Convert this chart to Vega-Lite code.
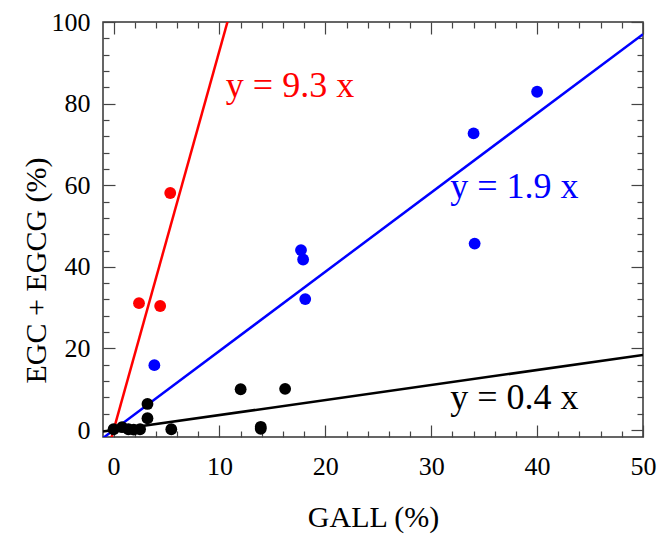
{
  "$schema": "https://vega.github.io/schema/vega-lite/v6.json",
  "width": 540,
  "height": 415,
  "autosize": {"type": "none"},
  "padding": {"left": 103, "top": 22, "right": 21, "bottom": 97},
  "background": "white",
  "config": {
    "view": {"stroke": "#333333", "strokeWidth": 1.5},
    "font": "Liberation Serif",
    "axis": {"grid": false, "domain": false, "tickColor": "#444444", "tickWidth": 1.2, "labelFont": "Liberation Serif", "titleFont": "Liberation Serif", "labelColor": "black", "titleColor": "black", "titleFontWeight": "normal", "labelFontSize": 26, "titleFontSize": 30}
  },
  "datasets": {
    "pts": [
      {"series": "red", "gall": 2.4, "egc": 31.1},
      {"series": "red", "gall": 4.4, "egc": 30.4},
      {"series": "red", "gall": 5.35, "egc": 58.1},
      {"series": "blue", "gall": 3.85, "egc": 15.9},
      {"series": "blue", "gall": 17.7, "egc": 44.1},
      {"series": "blue", "gall": 17.9, "egc": 41.8},
      {"series": "blue", "gall": 18.1, "egc": 32.1},
      {"series": "blue", "gall": 34.0, "egc": 72.7},
      {"series": "blue", "gall": 34.1, "egc": 45.7},
      {"series": "blue", "gall": 40.0, "egc": 82.9},
      {"series": "black", "gall": 0.0, "egc": 0.2},
      {"series": "black", "gall": 0.8, "egc": 0.7},
      {"series": "black", "gall": 1.4, "egc": 0.2},
      {"series": "black", "gall": 1.9, "egc": 0.1},
      {"series": "black", "gall": 2.5, "egc": 0.2},
      {"series": "black", "gall": 3.2, "egc": 2.9},
      {"series": "black", "gall": 3.2, "egc": 6.4},
      {"series": "black", "gall": 5.45, "egc": 0.2},
      {"series": "black", "gall": 12.0, "egc": 10.0},
      {"series": "black", "gall": 16.2, "egc": 10.1},
      {"series": "black", "gall": 13.9, "egc": 0.3},
      {"series": "black", "gall": 13.9, "egc": 0.8}
    ],
    "fits": [
      {"series": "red", "gall": -1, "egc": -9.3},
      {"series": "red", "gall": 11, "egc": 102.3},
      {"series": "blue", "gall": -1, "egc": -1.94},
      {"series": "blue", "gall": 50, "egc": 97},
      {"series": "black", "gall": -1, "egc": -0.37},
      {"series": "black", "gall": 50, "egc": 18.4}
    ],
    "labels": [
      {"series": "red", "gall": 10.6, "egc": 81.6, "text": "y = 9.3 x"},
      {"series": "blue", "gall": 31.8, "egc": 56.9, "text": "y = 1.9 x"},
      {"series": "black", "gall": 31.8, "egc": 5.1, "text": "y = 0.4 x"}
    ]
  },
  "layer": [
    {
      "data": {"name": "fits"},
      "mark": {"type": "line", "clip": true, "strokeWidth": 2.5},
      "encoding": {
        "x": {"field": "gall", "type": "quantitative", "scale": {"domain": [-1, 50], "nice": false, "zero": false},
          "axis": {"orient": "bottom", "title": "GALL (%)", "values": [0,2,4,6,8,10,12,14,16,18,20,22,24,26,28,30,32,34,36,38,40,42,44,46,48,50],
            "labelExpr": "datum.value % 10 === 0 ? datum.label : ''", "labelFlush": false,
            "tickSize": {"condition": {"test": "datum.value % 10 === 0", "value": -12}, "value": -6},
            "labelPadding": 28, "titleBaseline": "alphabetic", "titleY": 89}},
        "y": {"field": "egc", "type": "quantitative", "scale": {"domain": [-1.7, 100], "nice": false, "zero": false},
          "axis": {"orient": "left", "title": "EGC + EGCG (%)", "values": [0,4,8,12,16,20,24,28,32,36,40,44,48,52,56,60,64,68,72,76,80,84,88,92,96,100],
            "labelExpr": "datum.value % 20 === 0 ? datum.label : ''", "labelFlush": false,
            "tickSize": {"condition": {"test": "datum.value % 20 === 0", "value": -12}, "value": -6},
            "labelPadding": 25, "titleFontSize": 30, "titleBaseline": "alphabetic", "titleX": -58, "titleY": 248}},
        "color": {"field": "series", "type": "nominal", "scale": {"domain": ["red", "blue", "black"], "range": ["#ff0000", "#0000ff", "#000000"]}, "legend": null},
        "detail": {"field": "series"}
      }
    },
    {
      "data": {"name": "pts"},
      "mark": {"type": "circle", "size": 140, "opacity": 1},
      "encoding": {
        "x": {"field": "gall", "type": "quantitative",
          "axis": {"orient": "top", "title": null, "values": [0,2,4,6,8,10,12,14,16,18,20,22,24,26,28,30,32,34,36,38,40,42,44,46,48,50],
            "labels": false,
            "tickSize": {"condition": {"test": "datum.value % 10 === 0", "value": -12}, "value": -6}}},
        "y": {"field": "egc", "type": "quantitative",
          "axis": {"orient": "right", "title": null, "values": [0,4,8,12,16,20,24,28,32,36,40,44,48,52,56,60,64,68,72,76,80,84,88,92,96,100],
            "labels": false,
            "tickSize": {"condition": {"test": "datum.value % 20 === 0", "value": -12}, "value": -6}}},
        "color": {"field": "series", "type": "nominal", "legend": null}
      }
    },
    {
      "data": {"name": "labels"},
      "mark": {"type": "text", "align": "left", "baseline": "alphabetic", "fontSize": 36, "font": "Liberation Serif"},
      "encoding": {
        "x": {"field": "gall", "type": "quantitative", "axis": null},
        "y": {"field": "egc", "type": "quantitative", "axis": null},
        "text": {"field": "text"},
        "color": {"field": "series", "type": "nominal", "legend": null}
      }
    }
  ],
  "resolve": {"axis": {"x": "independent", "y": "independent"}}
}
